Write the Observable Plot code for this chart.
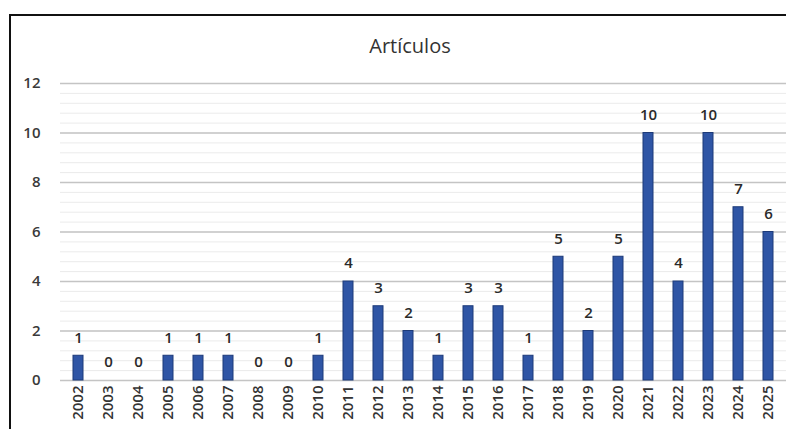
<!DOCTYPE html>
<html>
<head>
<meta charset="utf-8">
<script src="https://cdn.jsdelivr.net/npm/d3@7"></script>
<script src="https://cdn.jsdelivr.net/npm/@observablehq/plot@0.6"></script>
<style>
  html, body { margin: 0; padding: 0; background: #fff; width: 786px; height: 429px; overflow: hidden; }
  #frame { position: absolute; left: 9px; top: 14px; width: 800px; height: 430px; border-left: 2px solid #111; border-top: 2px solid #111; }
  #title { position: absolute; left: 0; width: 820px; top: 32px; text-align: center; font-family: "Open Sans", sans-serif; font-size: 20px; color: #333; }
  #chart { position: absolute; left: 0; top: 0; }
</style>
</head>
<body>
<div id="frame"></div>
<div id="title">Artículos</div>
<div id="chart"></div>
<script>
const years = ["2002","2003","2004","2005","2006","2007","2008","2009","2010","2011","2012","2013","2014","2015","2016","2017","2018","2019","2020","2021","2022","2023","2024","2025"];
const counts = [1,0,0,1,1,1,0,0,1,4,3,2,1,3,3,1,5,2,5,10,4,10,7,6];
const yTicks = [0,2,4,6,8,10,12];
const minorTicks = d3.range(0, 12.01, 0.4).map(v => +v.toFixed(1));

const data = years.map((y, i) => ({year: y, n: counts[i]}));

const chart = Plot.plot({
  width: 786,
  height: 429,
  marginLeft: 60,
  marginBottom: 49,
  marginTop: 0,
  marginRight: 0,
  style: {background: "transparent", fontFamily: "'Open Sans', sans-serif"},
  x: {domain: years, range: [58.9, 787.1], paddingInner: 0.67, paddingOuter: 0.3, label: null},
  y: {domain: [0, 12], range: [380, 83], label: null},
  marks: [
    Plot.ruleY(minorTicks, {stroke: "#ebebeb", strokeWidth: 1}),
    Plot.ruleY(yTicks, {stroke: "#c4c4c4", strokeWidth: 1.3}),
    Plot.barY(data, {x: "year", y: "n", fill: "#2f55a5", stroke: "#1d3a78", strokeWidth: 1}),
    Plot.text(data, {x: "year", y: "n", text: d => String(d.n), dy: -18, fontSize: 15, fontWeight: 600, fill: "#2a2a2a"}),
    Plot.axisY(yTicks, {tickSize: 0, tickPadding: 20, fontSize: 15, fontWeight: 600, color: "#3a3a3a", label: null}),
    Plot.axisX({tickSize: 0, tickRotate: -90, tickPadding: 5, fontSize: 15, fontWeight: 600, color: "#333", label: null})
  ]
});
document.getElementById("chart").appendChild(chart);
</script>
</body>
</html>
